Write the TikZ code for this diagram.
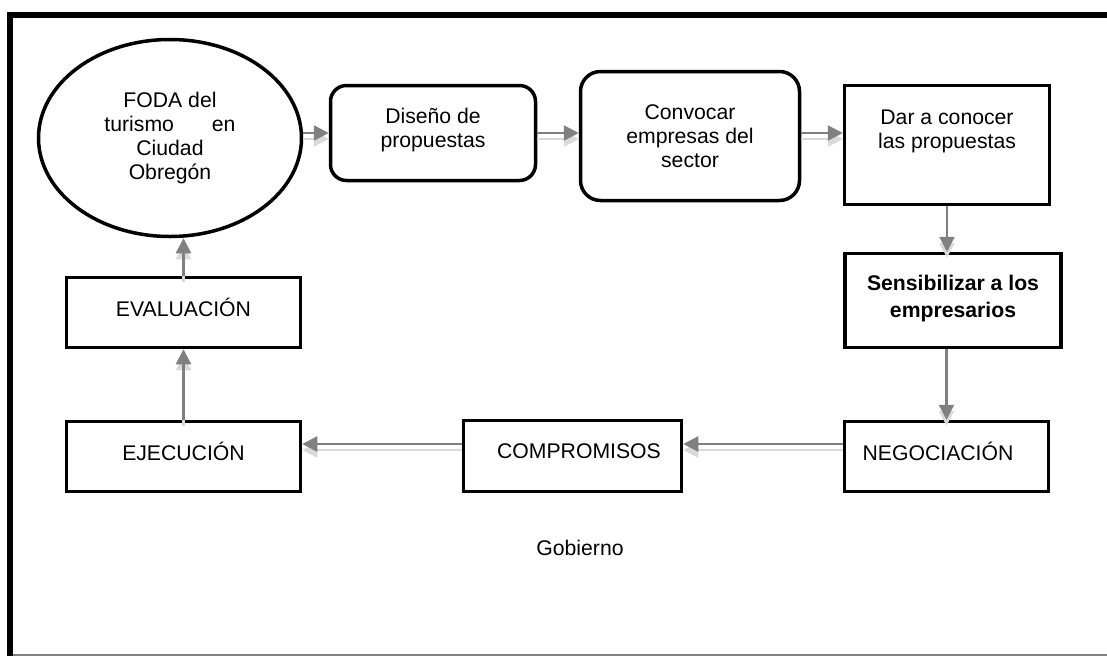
\documentclass[tikz,border=0pt]{standalone}
\usepackage{fontspec}
\setmainfont{Liberation Sans}
\usetikzlibrary{arrows.meta,shapes.geometric}
\definecolor{arrgray}{HTML}{808080}
\definecolor{shgray}{HTML}{D9D9D9}
\begin{document}
\begin{tikzpicture}[x=1pt,y=-1pt,
  box/.style={draw, line width=3.5pt, inner sep=0pt},
  rbox/.style={box, rounded corners=16pt},
  txt/.style={font=\fontsize{21.2pt}{23.8pt}\selectfont, align=center, inner sep=0pt},
  arr/.style={draw=arrgray, line width=2.4pt, -{Triangle[length=15pt,width=15pt]}},
  sh/.style={draw=shgray, line width=2.6pt, -{Triangle[length=15pt,width=15pt]}, transform canvas={yshift=-6pt}},
]
\useasboundingbox (0,0) rectangle (1107,656);
% frame
\draw[line width=6pt] (7,15) -- (1107,15);
\draw[line width=6pt] (10,12) -- (10,656);
\draw[gray, line width=1.2pt] (13,655) -- (1107,655);

% nodes
\node[ellipse, draw, line width=3.5pt, minimum width=263pt, minimum height=197pt, inner sep=0pt,
  label={[txt, name=tell]center:FODA del\\turismo\hspace{38pt}en\\Ciudad\\Obregón}] (ell) at (170,138) {};
\node[rbox, minimum width=205pt, minimum height=95pt,
  label={[txt, name=tdis, yshift=3pt]center:Diseño de\\propuestas}] (dis) at (433,133) {};
\node[rbox, rounded corners=20pt, minimum width=219pt, minimum height=129pt,
  label={[txt, name=tconv]center:Convocar\\empresas del\\sector}] (conv) at (690,136) {};
\node[box, minimum width=205pt, minimum height=119pt,
  label={[txt, name=tdar, yshift=13.5pt]center:Dar a conocer\\las propuestas}] (dar) at (947,145) {};
\node[box, minimum width=216pt, minimum height=94pt,
  label={[txt, name=tsens, yshift=2pt, font=\fontsize{21.2pt}{26.5pt}\selectfont\bfseries]center:Sensibilizar a los\\empresarios}] (sens) at (953,300.5) {};
\node[box, minimum width=204pt, minimum height=70pt,
  label={[txt, name=tneg, xshift=-8.5pt, yshift=5.5pt]center:NEGOCIACIÓN}] (neg) at (946.5,456.5) {};
\node[box, minimum width=218pt, minimum height=71pt,
  label={[txt, name=tcomp, xshift=6.5pt, yshift=5pt]center:COMPROMISOS}] (comp) at (572.5,456) {};
\node[box, minimum width=234pt, minimum height=70pt,
  label={[txt, name=teje, yshift=5.5pt]center:EJECUCIÓN}] (eje) at (183.5,456.5) {};
\node[box, minimum width=234pt, minimum height=70pt,
  label={[txt, name=teval, yshift=5.5pt]center:EVALUACIÓN}] (eval) at (183.5,312.5) {};
\node[txt] (gob) at (580,548) {Gobierno};

% shadows
\draw[sh] (dis.west -| ell.east) -- (dis.west);
\draw[sh] (dis.east) -- (dis.east -| conv.west);
\draw[sh] (dis.east -| conv.east) -- (dis.east -| dar.west);
\draw[sh] (dar.south) -- (dar.south |- sens.north);
\draw[sh] (neg.north |- sens.south) -- (neg.north);
\draw[sh] ([yshift=12.5pt]neg.west) -- ([yshift=12.5pt]neg.west -| comp.east);
\draw[sh] ([yshift=12pt]comp.west) -- ([yshift=12pt]comp.west -| eje.east);
\draw[sh] (eje.north) -- (eval.south);
\draw[sh] (eval.north) -- (eval.north |- ell.south);
% arrows
\draw[arr] (dis.west -| ell.east) -- (dis.west);
\draw[arr] (dis.east) -- (dis.east -| conv.west);
\draw[arr] (dis.east -| conv.east) -- (dis.east -| dar.west);
\draw[arr] (dar.south) -- (dar.south |- sens.north);
\draw[arr] (neg.north |- sens.south) -- (neg.north);
\draw[arr] ([yshift=12.5pt]neg.west) -- ([yshift=12.5pt]neg.west -| comp.east);
\draw[arr] ([yshift=12pt]comp.west) -- ([yshift=12pt]comp.west -| eje.east);
\draw[arr] (eje.north) -- (eval.south);
\draw[arr] (eval.north) -- (eval.north |- ell.south);
\end{tikzpicture}
\end{document}
